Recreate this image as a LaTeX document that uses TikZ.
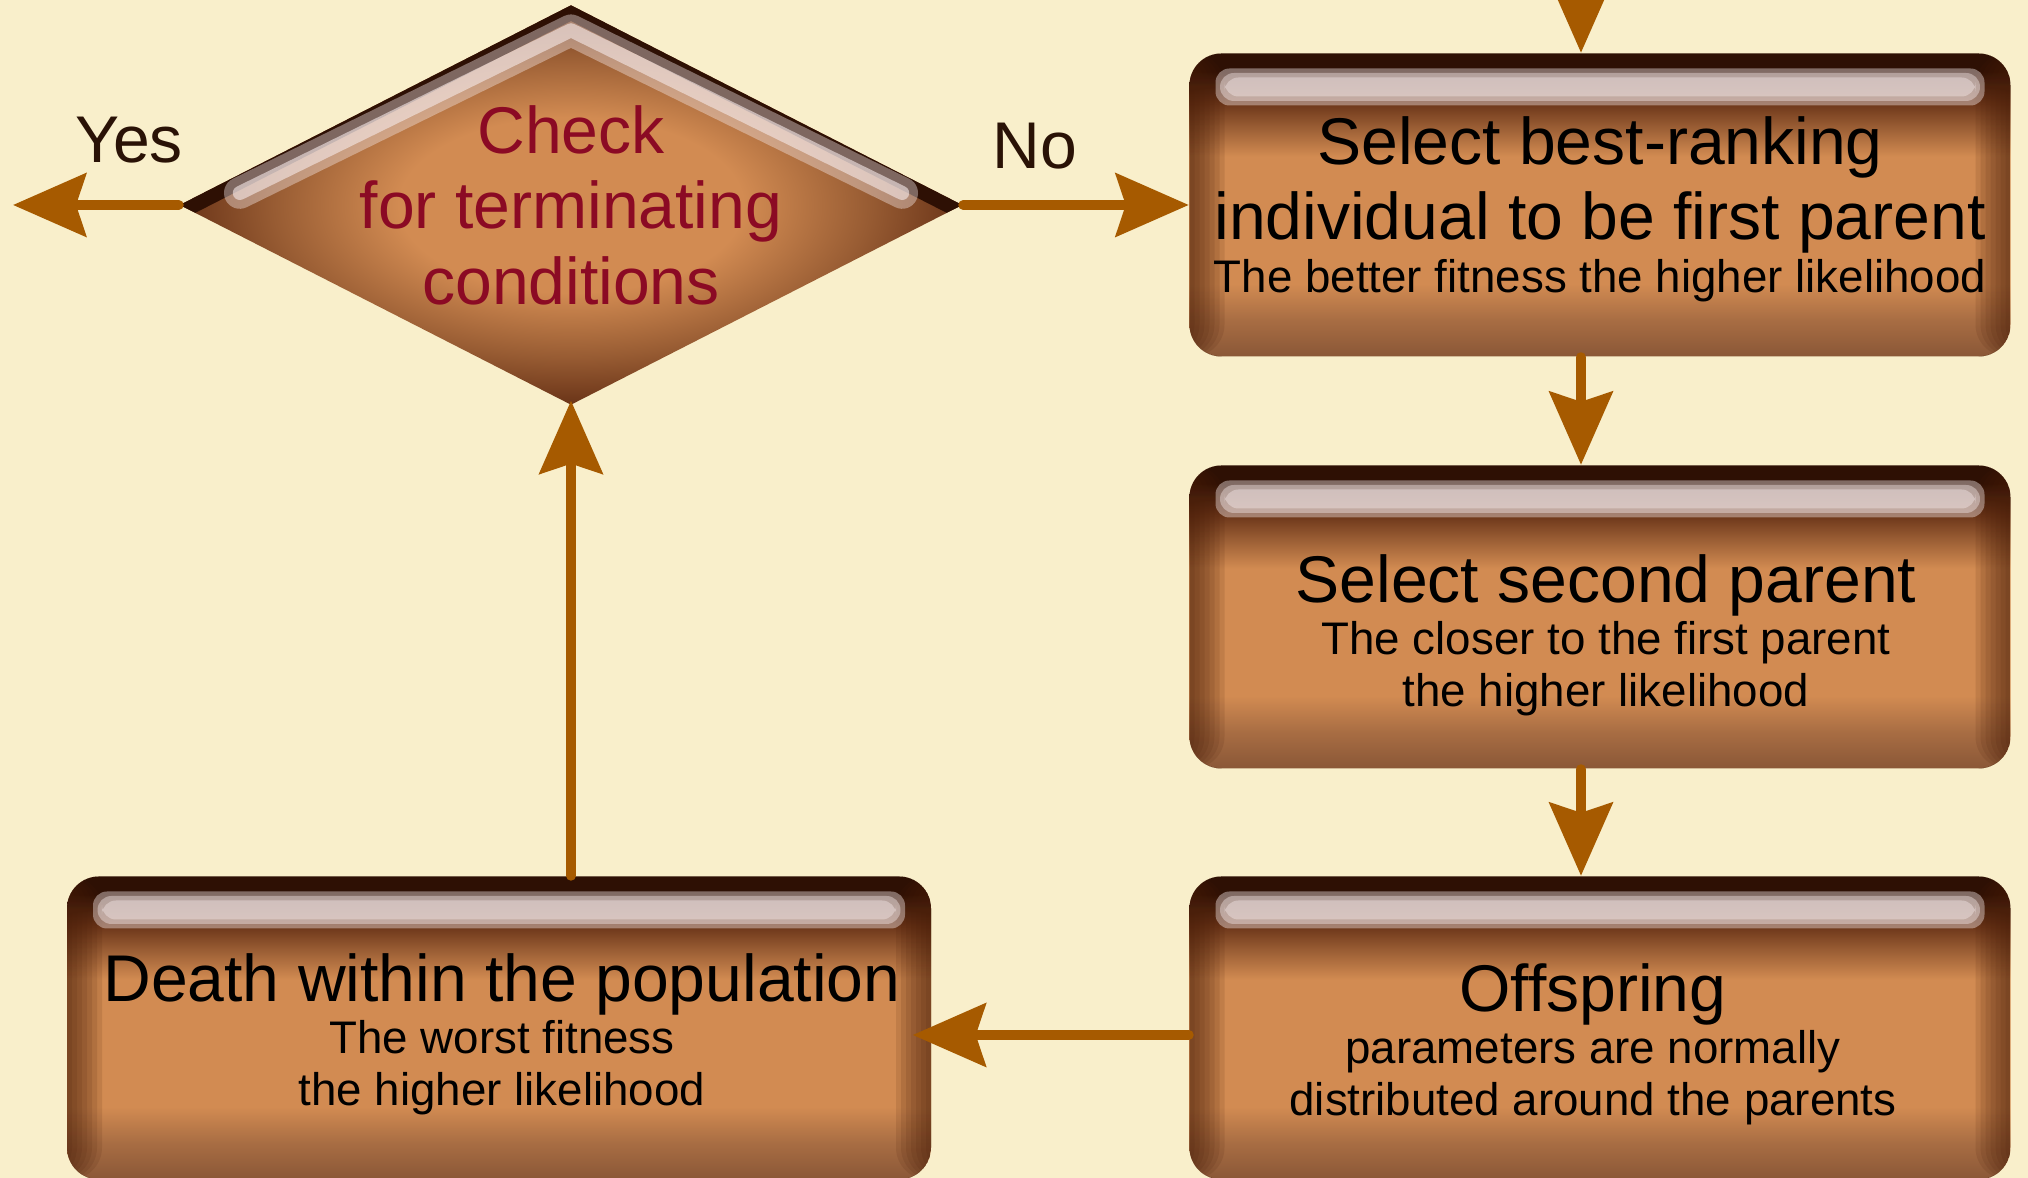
\documentclass[tikz,border=0pt]{standalone}
\usepackage{fontspec}
\setmainfont{Liberation Sans}
\usepackage{xcolor}
\usepackage{tikz}
\usetikzlibrary{calc}
\usetikzlibrary{arrows.meta}
\usetikzlibrary{shapes.geometric}

\definecolor{parchment}{HTML}{F9EFCB}
\definecolor{boxorange}{HTML}{D28B52}
\definecolor{boxlow}{HTML}{A86D43}
\definecolor{boxbottom}{HTML}{8A5737}
\definecolor{boxmid}{HTML}{985C33}
\definecolor{boxdark}{HTML}{6A3418}
\definecolor{boxtop}{HTML}{2E1004}
\definecolor{boxedge}{HTML}{4A1F0A}
\definecolor{gloss}{HTML}{F6EAEA}
\definecolor{arrowbrown}{HTML}{A65A00}
\definecolor{checkred}{HTML}{8B0A24}
\definecolor{labeldark}{HTML}{2A1206}

\newcommand{\bigtxt}{\fontsize{18.8}{21.5}\selectfont}
\newcommand{\smalltxt}{\fontsize{13}{14.5}\selectfont}

\pgfdeclareverticalshading{boxshade}{100bp}{color(0bp)=(boxbottom); color(25bp)=(boxbottom); color(31bp)=(boxlow); color(37bp)=(boxorange); color(58bp)=(boxorange); color(63bp)=(boxmid); color(67bp)=(boxdark); color(72bp)=(boxtop); color(75bp)=(boxtop); color(100bp)=(boxtop)}
\pgfdeclareradialshading{diashade}{\pgfpoint{0bp}{0bp}}{color(0bp)=(boxorange); color(11bp)=(boxorange); color(19bp)=(boxmid); color(25bp)=(boxdark); color(50bp)=(boxdark)}

\tikzstyle{stepbox} = [rectangle, rounded corners=0.32cm, minimum width=8.21cm, minimum height=3.03cm,
  shade, shading=boxshade,
  path picture={
    % dark side rims
    \foreach \w in {0.05,0.1,...,0.4} {
      \fill[boxedge, opacity=0.13] (path picture bounding box.north west) rectangle ([xshift=\w cm]path picture bounding box.south west);
      \fill[boxedge, opacity=0.13] ([xshift=-\w cm]path picture bounding box.north east) rectangle (path picture bounding box.south east);
    }
    % gloss
    \foreach \g in {0,0.045,0.09} {
      \fill[gloss, opacity=0.42, rounded corners=0.14cm] ([xshift={0.26cm+\g cm}, yshift={-0.15cm-\g cm}]path picture bounding box.north west) rectangle ([xshift={-0.26cm-\g cm}, yshift={-0.52cm+\g cm}]path picture bounding box.north east);
    }
  }]
\tikzstyle{steptext} = [align=center, font=\bigtxt, text=black]
\tikzstyle{decision} = [diamond, minimum width=7.83cm, minimum height=4.0cm, inner sep=0pt, shade, shading=diashade,
  path picture={
    \draw[boxtop, line width=8pt, line join=round] (path picture bounding box.west) -- (path picture bounding box.north) -- (path picture bounding box.east);
    \draw[gloss, opacity=.4, line width=9pt, line cap=round, line join=round] ([shift={(0.6,0.12)}]path picture bounding box.west) -- ([yshift=-0.25cm]path picture bounding box.north) -- ([shift={(-0.6,0.12)}]path picture bounding box.east);
    \draw[gloss, opacity=.6, line width=4pt, line cap=round, line join=round] ([shift={(0.6,0.12)}]path picture bounding box.west) -- ([yshift=-0.25cm]path picture bounding box.north) -- ([shift={(-0.6,0.12)}]path picture bounding box.east);
  }]
\tikzstyle{checktext} = [align=center, font=\bigtxt, text=checkred]
\tikzstyle{answer} = [font=\bigtxt, text=labeldark]
\tikzstyle{flow} = [-{Stealth[length=0.73cm, width=0.63cm, inset=0.1cm]}, line width=2.8pt, draw=arrowbrown, line cap=round]

\begin{document}
\begin{tikzpicture}
\useasboundingbox (0,0) rectangle (20.28,11.78);
\clip (0,0) rectangle (20.28,11.78);
\fill[parchment] (0,0) rectangle (20.28,11.78);

% decision
\node [decision] (check) at (5.71, 9.73) {};
\node [checktext] (checklbl) at (5.71, 9.73) {Check\\for terminating\\conditions};
\node [answer] (yes) at (1.29, 10.38) {Yes};
\node [answer] (no) at (10.35, 10.32) {No};
\coordinate (yesend) at (0.13, 9.73);
\coordinate (topin) at (15.81, 12.40);

% steps
\node [stepbox] (sel1) at (16.00, 9.73) {};
\node [stepbox] (sel2) at (16.00, 5.61) {};
\node [stepbox] (off) at (16.00, 1.50) {};
\node [stepbox, minimum width=8.64cm] (death) at (4.99, 1.50) {};

\node [steptext] (sel1txt) at ([yshift=-0.04cm]sel1.center) {Select best-ranking\\individual to be first parent\\[-6.5pt]{\smalltxt The better fitness the higher likelihood}};
\node [steptext] (sel2txt) at ([shift={(0.06,-0.18)}]sel2.center) {Select second parent\\[-6.5pt]{\smalltxt The closer to the first parent}\\[-6.9pt]{\smalltxt the higher likelihood}};
\node [steptext] (offtxt) at ([shift={(-0.07,-0.16)}]off.center) {Offspring\\[-6.5pt]{\smalltxt parameters are normally}\\[-6.9pt]{\smalltxt distributed around the parents}};
\node [steptext] (deathtxt) at ([shift={(0.03,-0.06)}]death.center) {Death within the population\\[-6.5pt]{\smalltxt The worst fitness}\\[-6.9pt]{\smalltxt the higher likelihood}};

% arrows
\draw [flow] (check.west) -- (yesend);
\draw [flow] (check.east) -- (sel1.west);
\draw [flow] (topin) -- ([xshift=-0.19cm]sel1.north);
\draw [flow] ([xshift=-0.19cm]sel1.south) -- ([xshift=-0.19cm]sel2.north);
\draw [flow] ([xshift=-0.19cm]sel2.south) -- ([xshift=-0.19cm]off.north);
\draw [flow, shorten >=-0.19cm] ([yshift=-0.07cm]off.west) -- ([yshift=-0.07cm]death.east);
\draw [flow, shorten >=-0.05cm] (check.south |- death.north) -- (check.south);
\end{tikzpicture}
\end{document}
